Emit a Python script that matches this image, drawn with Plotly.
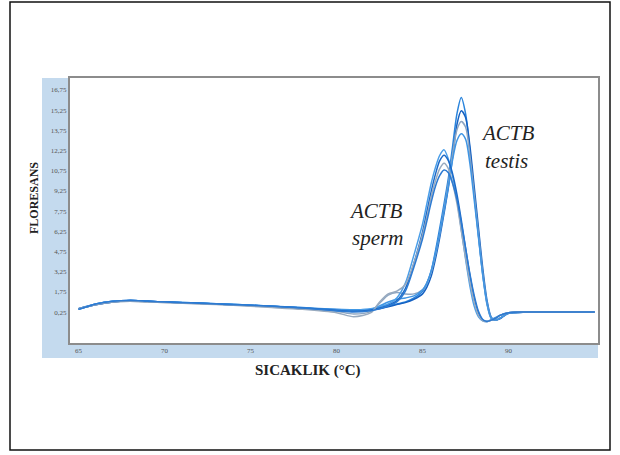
import plotly.graph_objects as go

temps = [65, 66, 67, 68, 69, 70, 72, 74, 76, 78, 80, 81, 82, 82.5, 83, 83.5, 84, 84.5,
         85, 85.25, 85.5, 85.75, 86, 86.25, 86.5, 86.75, 87, 87.25, 87.5, 87.75, 88,
         88.25, 88.5, 88.75, 89, 89.25, 89.5, 90, 91, 92, 93, 94, 95]

testis_1 = [0.45, 0.8, 1.0, 1.1, 1.05, 1.0, 0.92, 0.82, 0.7, 0.58, 0.45, 0.42, 0.45,
            0.55, 0.7, 0.85, 1.0, 1.3, 1.8, 2.4, 3.3, 4.8, 6.5, 8.3, 10.2, 12.6, 15.0, 16.2,
            15.0, 12.3, 9.0, 5.9, 3.0, 0.8, -0.25, -0.35, -0.2, 0.15, 0.25, 0.25, 0.25, 0.25, 0.25]
testis_2 = [0.5, 0.85, 1.05, 1.1, 1.05, 1.0, 0.9, 0.8, 0.68, 0.55, 0.4, 0.35, 0.4,
            0.5, 0.65, 0.8, 0.95, 1.2, 1.6, 2.1, 2.9, 4.2, 5.8, 7.6, 9.5, 11.8, 14.2, 15.2,
            14.7, 12.6, 9.6, 6.5, 3.5, 1.1, -0.15, -0.35, -0.25, 0.15, 0.25, 0.25, 0.25, 0.25, 0.25]
testis_3 = [0.5, 0.8, 1.0, 1.05, 1.0, 0.95, 0.88, 0.78, 0.65, 0.5, 0.3, 0.1, 0.3,
            0.9, 1.5, 1.7, 1.6, 1.6, 1.9, 2.4, 3.2, 4.5, 6.1, 7.9, 9.8, 12.0, 13.8, 14.4,
            14.0, 11.9, 9.0, 6.0, 3.1, 0.9, -0.2, -0.35, -0.2, 0.15, 0.25, 0.25, 0.25, 0.25, 0.25]
testis_4 = [0.45, 0.85, 1.05, 1.1, 1.05, 1.0, 0.9, 0.8, 0.7, 0.55, 0.35, 0.3, 0.45,
            0.7, 1.0, 1.2, 1.3, 1.45, 1.9, 2.4, 3.3, 4.6, 6.1, 7.8, 9.6, 11.6, 13.0, 13.5,
            13.1, 11.3, 8.6, 5.8, 3.0, 0.9, -0.2, -0.35, -0.2, 0.15, 0.25, 0.25, 0.25, 0.25, 0.25]
sperm_1 = [0.5, 0.85, 1.05, 1.1, 1.05, 1.0, 0.92, 0.82, 0.7, 0.56, 0.42, 0.4, 0.5,
           0.65, 0.85, 1.3, 2.4, 4.5, 6.8, 8.3, 9.8, 11.0, 11.9, 12.3, 11.6, 10.3, 8.6, 6.4,
           4.2, 2.2, 0.7, -0.1, -0.4, -0.45, -0.3, -0.15, 0.0, 0.2, 0.25, 0.25, 0.25, 0.25, 0.25]
sperm_2 = [0.5, 0.8, 1.0, 1.1, 1.05, 1.0, 0.9, 0.8, 0.68, 0.55, 0.38, 0.3, 0.4,
           0.55, 0.75, 1.1, 2.0, 3.9, 6.2, 7.7, 9.2, 10.5, 11.5, 11.9, 11.5, 10.5, 9.0, 7.1,
           5.0, 3.0, 1.3, 0.2, -0.35, -0.45, -0.35, -0.2, 0.0, 0.2, 0.25, 0.25, 0.25, 0.25, 0.25]
sperm_3 = [0.5, 0.8, 1.0, 1.05, 1.0, 0.95, 0.85, 0.75, 0.6, 0.45, 0.2, -0.1, 0.2,
           1.0, 1.6, 1.8, 2.3, 3.9, 6.0, 7.3, 8.8, 10.0, 10.9, 11.3, 10.9, 9.8, 8.3, 6.3,
           4.3, 2.5, 1.0, 0.0, -0.4, -0.45, -0.35, -0.2, 0.0, 0.2, 0.25, 0.25, 0.25, 0.25, 0.25]
sperm_4 = [0.45, 0.85, 1.05, 1.1, 1.05, 1.0, 0.9, 0.8, 0.7, 0.55, 0.35, 0.25, 0.35,
           0.5, 0.7, 1.0, 1.8, 3.6, 5.7, 7.0, 8.4, 9.6, 10.4, 10.8, 10.6, 9.8, 8.6, 6.9,
           5.0, 3.1, 1.5, 0.3, -0.3, -0.45, -0.35, -0.2, 0.0, 0.2, 0.25, 0.25, 0.25, 0.25, 0.25]

series = [
    ("ACTB testis 1", testis_1, "#2a84dc"),
    ("ACTB testis 2", testis_2, "#1561c2"),
    ("ACTB testis 3", testis_3, "#8ea6c2"),
    ("ACTB testis 4", testis_4, "#3f95e4"),
    ("ACTB sperm 1", sperm_1, "#4a9ee8"),
    ("ACTB sperm 2", sperm_2, "#1c6ac8"),
    ("ACTB sperm 3", sperm_3, "#98aabf"),
    ("ACTB sperm 4", sperm_4, "#2c7ad2"),
]

y_ticks = [0.25, 1.75, 3.25, 4.75, 6.25, 7.75, 9.25, 10.75, 12.25, 13.75, 15.25, 16.75]
y_tick_text = ["0,25", "1,75", "3,25", "4,75", "6,25", "7,75", "9,25", "10,75",
               "12,25", "13,75", "15,25", "16,75"]
x_ticks = [65, 70, 75, 80, 85, 90]
x_tick_text = ["65", "70", "75", "80", "85", "90"]

for name, vals, _ in series:
    assert len(vals) == len(temps), (name, len(vals))

fig = go.Figure()
for name, vals, color in series:
    fig.add_trace(go.Scatter(x=temps, y=vals, mode="lines", name=name,
                             line=dict(color=color, width=1.5, shape="spline", smoothing=0.8),
                             showlegend=False))

W, H = 620, 455
ml, mr, mt, mb = 70, 22, 78, 112
pw, ph = W - ml - mr, H - mt - mb


def px(x):
    return (x - ml) / pw


def py(y):
    return (H - mb - y) / ph


shapes = [
    dict(type="rect", xref="paper", yref="paper", x0=px(42), x1=px(70), y0=py(358), y1=py(78),
         fillcolor="#c4daee", line=dict(width=0), layer="below"),
    dict(type="rect", xref="paper", yref="paper", x0=px(42), x1=px(598), y0=py(358), y1=py(343),
         fillcolor="#c4daee", line=dict(width=0), layer="below"),
    dict(type="rect", xref="paper", yref="paper", x0=px(10), x1=px(610), y0=py(450), y1=py(2),
         line=dict(color="#111111", width=1.5)),
]


def label(text, x, y, size, color="#222222", angle=0):
    return dict(text=text, x=px(x), y=py(y), xref="paper", yref="paper", showarrow=False,
                xanchor="center", yanchor="middle", textangle=angle,
                font=dict(family="Liberation Serif", size=size, color=color))


annotations = [
    label("<i>ACTB</i>", 376, 211, 21),
    label("<i>sperm</i>", 377, 238, 21),
    label("<i>ACTB</i>", 508, 133, 21),
    label("<i>testis</i>", 506, 161, 21),
    label("<b>FLORESANS</b>", 34, 198, 12, angle=-90),
    label("<b>SICAKLIK (°C)</b>", 308, 370, 15),
]

fig.update_layout(
    width=W, height=H,
    margin=dict(l=ml, r=mr, t=mt, b=mb, pad=0),
    paper_bgcolor="white", plot_bgcolor="white",
    shapes=shapes, annotations=annotations,
    xaxis=dict(range=[64.5, 95.2], tickvals=x_ticks, ticktext=x_tick_text,
               showgrid=False, zeroline=False, showline=True, mirror=True,
               linecolor="#8c8c8c", linewidth=2, ticks="",
               tickfont=dict(family="Liberation Serif", size=7, color="#555555")),
    yaxis=dict(range=[-2.05, 17.64], tickvals=y_ticks, ticktext=y_tick_text,
               showgrid=False, zeroline=False, showline=True, mirror=True,
               linecolor="#8c8c8c", linewidth=2, ticks="",
               tickfont=dict(family="Liberation Serif", size=7, color="#555555")),
)

fig.write_html("out.html", config={"displayModeBar": False},
               post_script="document.body.style.margin='0';document.body.style.overflow='hidden';")
